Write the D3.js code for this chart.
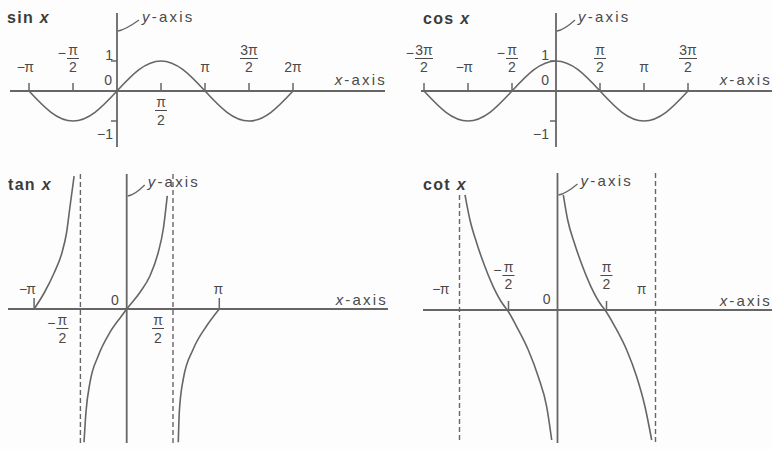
<!DOCTYPE html>
<html>
<head>
<meta charset="utf-8">
<script src="https://cdn.jsdelivr.net/npm/d3@7"></script>
<style>
  html, body { margin: 0; padding: 0; background: #fff; }
  svg { display: block; font-family: "Liberation Sans", Arial, sans-serif; }
</style>
</head>
<body>
<div id="chart"></div>
<script>
const sinX = [-1, -0.75, -0.5, -0.25, 0, 0.25, 0.5, 0.75, 1, 1.25, 1.5, 1.75, 2];
const sinY = [0, -0.71, -1, -0.71, 0, 0.71, 1, 0.71, 0, -0.71, -1, -0.71, 0];

const cosX = [-1.5, -1.25, -1, -0.75, -0.5, -0.25, 0, 0.25, 0.5, 0.75, 1, 1.25, 1.5];
const cosY = [0, -0.71, -1, -0.71, 0, 0.71, 1, 0.71, 0, -0.71, -1, -0.71, 0];

// tan and cot are sketched, so each branch is read point by point
const tanLeftX = [-1, -0.892, -0.784, -0.70, -0.65, -0.61, -0.568];
const tanLeftY = [0, 0.4, 0.9, 1.4, 1.9, 2.6, 3.32];
const tanMidX = [-0.461, -0.44, -0.396, -0.307, -0.18, -0.054, 0, 0.144, 0.252, 0.341, 0.395, 0.438];
const tanMidY = [-3.33, -2.58, -1.83, -1.17, -0.58, -0.17, 0, 0.42, 0.83, 1.42, 2.0, 2.83];
const tanRightX = [0.557, 0.568, 0.611, 0.719, 0.864, 1];
const tanRightY = [-3.33, -2.58, -1.75, -1.0, -0.42, 0];

const cotLeftX = [-0.944, -0.893, -0.824, -0.74, -0.655, -0.553, -0.512, -0.416, -0.298, -0.196, -0.11, -0.059];
const cotLeftY = [2.88, 2.25, 1.67, 1.08, 0.58, 0.13, 0, -0.42, -1.0, -1.67, -2.42, -3.25];
const cotRightX = [0.059, 0.104, 0.173, 0.257, 0.342, 0.444, 0.485, 0.587, 0.706, 0.808, 0.893, 0.961];
const cotRightY = [2.88, 2.25, 1.67, 1.08, 0.58, 0.13, 0, -0.42, -1.0, -1.67, -2.42, -3.25];

// tick values (multiples of π) and their labels
const sinTicks = [-1, -0.5, 0.5, 1, 1.5, 2];
const sinTickLabels = ["−π", "−π/2", "π/2", "π", "3π/2", "2π"];
const cosTicks = [-1.5, -1, -0.5, 0.5, 1, 1.5];
const cosTickLabels = ["−3π/2", "−π", "−π/2", "π/2", "π", "3π/2"];
const tanTicks = [-1, -0.5, 0.5, 1];
const tanTickLabels = ["−π", "−π/2", "π/2", "π"];
const cotTicks = [-1, -0.5, 0.5, 1];
const cotTickLabels = ["−π", "−π/2", "π/2", "π"];
const unitTicks = [1, -1];
const unitTickLabels = ["1", "−1"];
const asymptotesTan = [-0.5, 0.5];
const asymptotesCot = [-1, 1];

const width = 772, height = 449;
const lineColor = "#666", textColor = "#4a4a4a";

const svg = d3.select("#chart").append("svg")
  .attr("width", width).attr("height", height)
  .attr("viewBox", [0, 0, width, height]);

svg.append("rect").attr("width", width).attr("height", height).attr("fill", "#fdfdfd");

const zip = (xs, ys) => xs.map((x, i) => [x, ys[i]]);

// draws a label like "−π/2" or "3π" centred on x
function piLabel(g, x, yb, label, stacked) {
  const neg = label.startsWith("−");
  const body = neg ? label.slice(1) : label;
  if (body.includes("/")) {
    const [num, den] = body.split("/");
    const w = num.length > 1 ? 9 : 6;
    g.append("text").attr("x", x).attr("y", yb).attr("text-anchor", "middle").text(num);
    g.append("line")
      .attr("x1", x - w).attr("x2", x + w)
      .attr("y1", yb + 3.5).attr("y2", yb + 3.5)
      .attr("stroke", textColor).attr("stroke-width", 1);
    g.append("text").attr("x", x).attr("y", yb + stacked).attr("text-anchor", "middle").text(den);
    if (neg) {
      g.append("text").attr("x", x - w - 1).attr("y", yb + 3)
        .attr("text-anchor", "end").text("−");
    }
  } else {
    g.append("text").attr("x", x).attr("y", yb).attr("text-anchor", "middle").text(body);
    if (neg) {
      g.append("text").attr("x", x - 4).attr("y", yb).attr("text-anchor", "end").text("−");
    }
  }
}

function axisLabel(g, x, y, letter, anchor) {
  const t = g.append("text")
    .attr("x", x).attr("y", y)
    .attr("text-anchor", anchor)
    .attr("font-size", 15)
    .attr("letter-spacing", 2.2)
    .attr("fill", textColor);
  t.append("tspan").attr("font-style", "italic").text(letter);
  t.append("tspan").text("-axis");
}

function drawPanel(p) {
  const g = svg.append("g")
    .attr("fill", textColor)
    .attr("font-size", 14);

  const x = d3.scaleLinear().domain([0, 1]).range([p.ox, p.ox + p.ppi]);
  const y = d3.scaleLinear().domain([0, 1]).range([p.oy, p.oy - p.unit]);

  // title
  const title = g.append("text")
    .attr("x", p.titleX).attr("y", p.titleY)
    .attr("font-size", 16).attr("font-weight", "bold")
    .attr("letter-spacing", 1.3).attr("fill", "#3c3c3c");
  title.append("tspan").text(p.name + " ");
  title.append("tspan").attr("font-style", "italic").text("x");

  // asymptotes (dashed)
  (p.asymptotes || []).forEach((a, i) => {
    g.append("line")
      .attr("x1", x(a)).attr("x2", x(a))
      .attr("y1", p.asymTop ? p.asymTop[i] : p.yAxis[0]).attr("y2", p.yAxis[1])
      .attr("stroke", lineColor).attr("stroke-width", 1.4)
      .attr("stroke-dasharray", "5,3");
  });

  // axes
  g.append("line")
    .attr("x1", p.xAxis[0]).attr("x2", p.xAxis[1])
    .attr("y1", p.oy).attr("y2", p.oy)
    .attr("stroke", lineColor).attr("stroke-width", 1.8);
  g.append("line")
    .attr("x1", p.ox).attr("x2", p.ox)
    .attr("y1", p.yAxis[0]).attr("y2", p.yAxis[1])
    .attr("stroke", lineColor).attr("stroke-width", 1.8);

  // x ticks and labels
  p.ticks.forEach((v, i) => {
    const o = p.tickStyle[i];
    if (o.tick) {
      g.append("line")
        .attr("x1", x(v)).attr("x2", x(v))
        .attr("y1", p.oy - p.tickLen).attr("y2", p.oy)
        .attr("stroke", lineColor).attr("stroke-width", 1.5);
    }
    const lab = p.tickLabels[i];
    const isFrac = lab.includes("/");
    let yb;
    if (o.below) yb = p.oy + 16;
    else yb = isFrac ? p.oy - p.fracUp : p.oy - p.plainUp;
    piLabel(g, x(v) + (o.dx || 0), yb, lab, isFrac && o.below ? 18 : 17);
  });

  // origin label
  g.append("text")
    .attr("x", p.ox - p.zeroDx).attr("y", p.oy - p.zeroUp)
    .attr("text-anchor", "end").text("0");

  // y ticks (sin and cos only)
  if (p.yTicks) {
    p.yTicks.forEach((v, i) => {
      g.append("line")
        .attr("x1", p.ox - 6).attr("x2", p.ox)
        .attr("y1", y(v)).attr("y2", y(v))
        .attr("stroke", lineColor).attr("stroke-width", 1.5);
      g.append("text")
        .attr("x", p.ox - p.yLabelDx)
        .attr("y", v > 0 ? y(v) - 1 : y(v) + 18)
        .attr("text-anchor", "end")
        .text(p.yTickLabels[i]);
    });
  }

  // curves
  const line = d3.line()
    .x((d) => x(d[0]))
    .y((d) => y(d[1]))
    .curve(p.curve);
  p.series.forEach((s) => {
    g.append("path")
      .attr("d", line(s))
      .attr("fill", "none")
      .attr("stroke", lineColor)
      .attr("stroke-width", 1.6);
  });

  // y-axis leader and label
  const ly = p.leaderY;
  g.append("path")
    .attr("d", `M${p.ox + 1},${ly} Q${p.ox + 8},${ly - 1} ${p.ox + p.leaderW},${ly - 11}`)
    .attr("fill", "none").attr("stroke", lineColor).attr("stroke-width", 1.3);
  axisLabel(g, p.ox + p.leaderW + 3, ly - 9, "y", "start");

  // x-axis label
  axisLabel(g, p.xLabelX, p.oy - p.xLabelUp, "x", "end");
}

const up = { tick: true };
const below = { tick: true, below: true };

drawPanel({
  name: "sin", titleX: 7, titleY: 23,
  ox: 117, oy: 91, ppi: 88, unit: 30,
  xAxis: [10, 385], yAxis: [13, 147],
  ticks: sinTicks, tickLabels: sinTickLabels,
  tickStyle: [up, up, below, up, up, up],
  tickLen: 8, fracUp: 36, plainUp: 19,
  zeroDx: 5, zeroUp: 6,
  yTicks: unitTicks, yTickLabels: unitTickLabels, yLabelDx: 4,
  series: [zip(sinX, sinY)], curve: d3.curveNatural,
  leaderY: 31, leaderW: 22,
  xLabelX: 387, xLabelUp: 6
});

drawPanel({
  name: "cos", titleX: 423, titleY: 24,
  ox: 556, oy: 91, ppi: 88, unit: 30,
  xAxis: [421, 772], yAxis: [13, 147],
  ticks: cosTicks, tickLabels: cosTickLabels,
  tickStyle: [up, up, up, up, up, up],
  tickLen: 8, fracUp: 36, plainUp: 19,
  zeroDx: 7, zeroUp: 6,
  yTicks: unitTicks, yTickLabels: unitTickLabels, yLabelDx: 7,
  series: [zip(cosX, cosY)], curve: d3.curveNatural,
  leaderY: 31, leaderW: 19,
  xLabelX: 772, xLabelUp: 6
});

drawPanel({
  name: "tan", titleX: 8, titleY: 190,
  ox: 126.7, oy: 309, ppi: 92.6, unit: 40,
  xAxis: [8, 388], yAxis: [174, 443],
  asymptotes: asymptotesTan,
  ticks: tanTicks, tickLabels: tanTickLabels,
  tickStyle: [{ tick: true, dx: -3 }, { below: true, dx: -18 }, { below: true, dx: -15 }, { tick: true, dx: -1 }],
  tickLen: 11, fracUp: 37, plainUp: 15,
  zeroDx: 8, zeroUp: 4,
  series: [zip(tanLeftX, tanLeftY), zip(tanMidX, tanMidY), zip(tanRightX, tanRightY)],
  curve: d3.curveMonotoneX,
  leaderY: 196, leaderW: 18,
  xLabelX: 388, xLabelUp: 4
});

drawPanel({
  name: "cot", titleX: 423, titleY: 190,
  ox: 557.5, oy: 310, ppi: 98, unit: 40,
  xAxis: [423, 772], yAxis: [173, 443],
  asymptotes: asymptotesCot, asymTop: [195, 173],
  ticks: cotTicks, tickLabels: cotTickLabels,
  tickStyle: [{ dx: -15 }, up, up, { dx: -14 }],
  tickLen: 9, fracUp: 38, plainUp: 16,
  zeroDx: 7, zeroUp: 6,
  series: [zip(cotLeftX, cotLeftY), zip(cotRightX, cotRightY)],
  curve: d3.curveMonotoneX,
  leaderY: 195, leaderW: 20,
  xLabelX: 772, xLabelUp: 4
});
</script>
</body>
</html>
